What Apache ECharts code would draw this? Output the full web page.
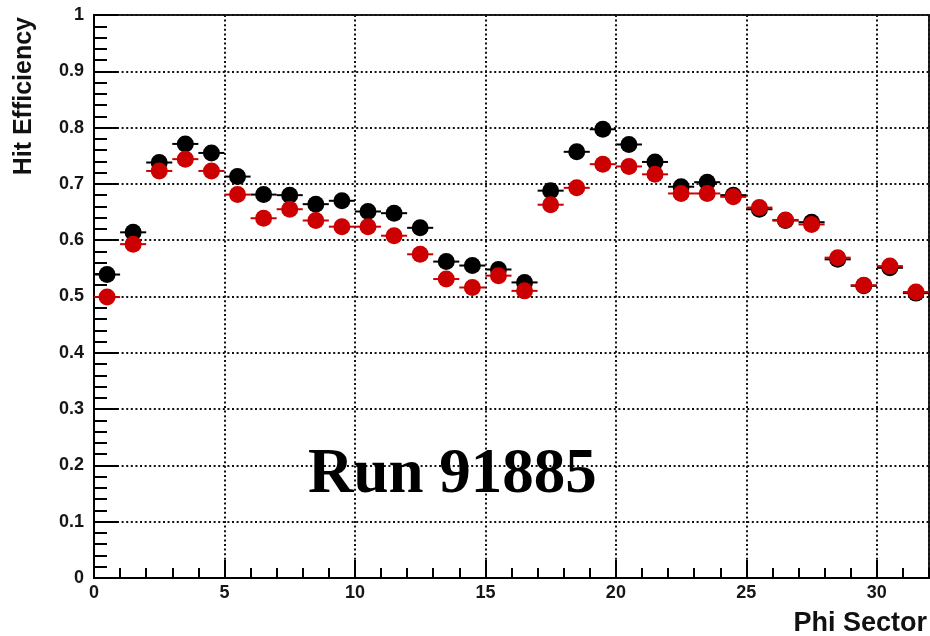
<!DOCTYPE html>
<html>
<head>
<meta charset="utf-8">
<script src="https://cdn.jsdelivr.net/npm/echarts@6/dist/echarts.min.js"></script>
<style>
  html, body { margin: 0; padding: 0; background: #ffffff; }
  #chart { width: 930px; height: 636px; }
</style>
</head>
<body>
<div id="chart"></div>
<script>
// Phi sector bin centres (unit-width bins spanning 0..32)
const sectors = [0.5, 1.5, 2.5, 3.5, 4.5, 5.5, 6.5, 7.5, 8.5, 9.5, 10.5, 11.5, 12.5, 13.5, 14.5, 15.5,
                 16.5, 17.5, 18.5, 19.5, 20.5, 21.5, 22.5, 23.5, 24.5, 25.5, 26.5, 27.5, 28.5, 29.5, 30.5, 31.5];

// Hit efficiency per sector, black set
const effBlack = [0.539, 0.614, 0.738, 0.771, 0.755, 0.713, 0.681, 0.680, 0.664, 0.670, 0.651, 0.648, 0.622, 0.562, 0.555, 0.548,
                  0.525, 0.688, 0.757, 0.797, 0.770, 0.739, 0.695, 0.703, 0.680, 0.655, 0.635, 0.632, 0.566, 0.519, 0.551, 0.506];

// Hit efficiency per sector, red set
const effRed = [0.499, 0.593, 0.723, 0.744, 0.723, 0.681, 0.639, 0.655, 0.635, 0.624, 0.624, 0.608, 0.575, 0.531, 0.516, 0.537,
                0.510, 0.663, 0.693, 0.735, 0.731, 0.717, 0.683, 0.683, 0.677, 0.658, 0.636, 0.628, 0.569, 0.520, 0.554, 0.508];

const binHalfWidth = 0.5;
const runLabel = 'Run 91885';
const xTitle = 'Phi Sector';
const yTitle = 'Hit Efficiency';

const labelFont = { fontFamily: 'Liberation Sans, Arial, sans-serif', fontWeight: 'bold', fontSize: 18, color: '#151515' };
const gridDots = { color: '#111', width: 2, type: [2, 2.6] };

// Marker with horizontal bin-width bar, in the style of a histogram with errors
function makeRenderer(color) {
  return function (params, api) {
    const x = api.value(0), y = api.value(1);
    const c = api.coord([x, y]);
    const l = api.coord([x - binHalfWidth, y]);
    const r = api.coord([x + binHalfWidth, y]);
    return {
      type: 'group',
      children: [
        { type: 'line', shape: { x1: l[0], y1: l[1], x2: r[0], y2: r[1] },
          style: { stroke: color, lineWidth: 2 } },
        { type: 'circle', shape: { cx: c[0], cy: c[1], r: 8.5 },
          style: { fill: color } }
      ]
    };
  };
}

const chart = echarts.init(document.getElementById('chart'), null, { renderer: 'canvas' });

chart.setOption({
  animation: false,
  backgroundColor: '#ffffff',
  grid: { left: 94, right: 1, top: 15, bottom: 58, show: true, borderColor: '#222', borderWidth: 2, backgroundColor: 'transparent' },
  xAxis: [
    {
      type: 'value', min: 0, max: 32, interval: 5, position: 'bottom',
      axisLine: { show: true, onZero: false, lineStyle: { color: '#000', width: 2 } },
      axisTick: { show: true, inside: true, length: 18, lineStyle: { color: '#000', width: 2 } },
      axisLabel: Object.assign({ margin: 6, showMaxLabel: false }, labelFont),
      splitLine: { show: true, lineStyle: gridDots }
    },
    {
      // unit sub-ticks along the sector axis
      type: 'value', min: 0, max: 32, interval: 1, position: 'bottom', offset: 0,
      axisLine: { show: false },
      axisTick: { show: true, inside: true, length: 10, lineStyle: { color: '#000', width: 2 } },
      axisLabel: { show: false },
      splitLine: { show: false }
    }
  ],
  yAxis: {
    type: 'value', min: 0, max: 1, interval: 0.1,
    axisLine: { show: true, lineStyle: { color: '#000', width: 2 } },
    axisTick: { show: true, inside: true, length: 24, lineStyle: { color: '#000', width: 2 } },
    minorTick: { show: true, splitNumber: 5, length: 13, lineStyle: { color: '#000', width: 2 } },
    axisLabel: Object.assign({ margin: 10 }, labelFont),
    splitLine: { show: true, lineStyle: gridDots }
  },
  series: [
    {
      name: 'black', type: 'custom', z: 3,
      renderItem: makeRenderer('#000000'),
      data: sectors.map((s, i) => [s, effBlack[i]])
    },
    {
      name: 'red', type: 'custom', z: 4,
      renderItem: makeRenderer('#cc0000'),
      data: sectors.map((s, i) => [s, effRed[i]])
    }
  ],
  graphic: [
    { type: 'text', x: 927, y: 624, z: 10,
      style: { text: xTitle, align: 'right', verticalAlign: 'middle',
               font: 'bold 27px "Liberation Sans", Arial, sans-serif', fill: '#111' } },
    { type: 'text', x: 24, y: 17, rotation: Math.PI / 2, z: 10,
      style: { text: yTitle, align: 'right', verticalAlign: 'middle',
               font: 'bold 25px "Liberation Sans", Arial, sans-serif', fill: '#111' } },
    { type: 'text', x: 308, y: 476, z: 10,
      style: { text: runLabel, align: 'left', verticalAlign: 'middle',
               font: 'bold 63px "Liberation Serif", "Times New Roman", serif', fill: '#000' } }
  ]
});
</script>
</body>
</html>
